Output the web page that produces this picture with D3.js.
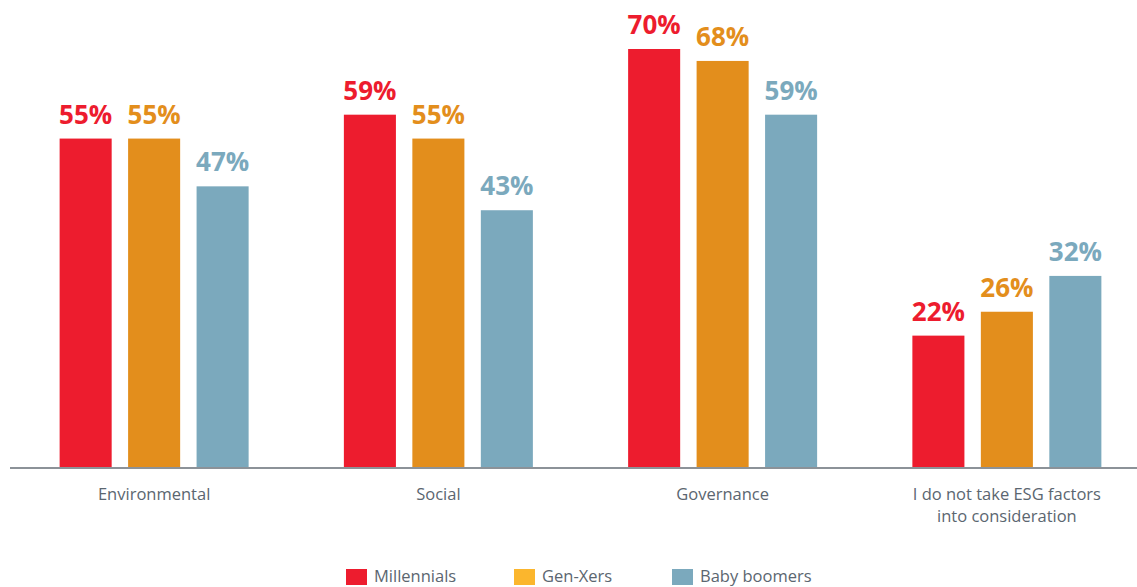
<!DOCTYPE html>
<html>
<head>
<meta charset="utf-8">
<script src="https://cdn.jsdelivr.net/npm/d3@7"></script>
<style>
  body { margin: 0; background: #fff; }
  svg text { font-family: "Open Sans", sans-serif; }
</style>
</head>
<body>
<script>
'use strict';

const categories = ["Environmental", "Social", "Governance", "I do not take ESG factors|into consideration"];
const series = ["Millennials", "Gen-Xers", "Baby boomers"];
const millennials = [55, 59, 70, 22];
const genXers = [55, 55, 68, 26];
const babyBoomers = [47, 43, 59, 32];

(function() {
  const width = 1137, height = 587;
  const barColors = ["#ED1C2E", "#E38E1C", "#7BA9BD"];
  const legendColors = ["#ED1C2E", "#FBB62D", "#7BA9BD"];
  const textGray = "#5B6670";

  const values = [millennials, genXers, babyBoomers];

  const svg = d3.select("body")
    .append("svg")
    .attr("width", width)
    .attr("height", height);

  let x = d3.scaleBand()
    .domain(categories)
    .range([12, 1149]);

  let xInner = d3.scaleBand()
    .domain(series)
    .range([-94.5, 94.5])
    .paddingInner(0.24);

  let y = d3.scaleLinear()
    .domain([0, 70])
    .range([467, 49]);

  let rows = [];
  categories.forEach((c, i) => {
    series.forEach((s, j) => {
      rows.push({cat: c, ser: s, j: j, v: values[j][i]});
    });
  });

  let cx = (d) => x(d.cat) + x.bandwidth() / 2 + xInner(d.ser);

  svg.selectAll(".bar")
    .data(rows)
    .enter()
    .append("rect")
      .attr("class", "bar")
      .attr("x", cx)
      .attr("y", (d) => y(d.v))
      .attr("width", xInner.bandwidth())
      .attr("height", (d) => y(0) - y(d.v))
      .attr("fill", (d) => barColors[d.j]);

  svg.selectAll(".val")
    .data(rows)
    .enter()
    .append("text")
      .attr("class", "val")
      .attr("x", (d) => cx(d) + xInner.bandwidth() / 2)
      .attr("y", (d) => y(d.v) - 15)
      .attr("text-anchor", "middle")
      .style("font-size", "26px")
      .style("font-weight", "bold")
      .attr("fill", (d) => barColors[d.j])
      .text((d) => d.v + "%");

  // baseline
  svg.append("line")
    .attr("x1", 10)
    .attr("x2", width)
    .attr("y1", y(0) + 1)
    .attr("y2", y(0) + 1)
    .attr("stroke", "#8C9298")
    .attr("stroke-width", 2);

  // category labels
  let labels = svg.selectAll(".cat")
    .data(categories)
    .enter()
    .append("text")
      .attr("class", "cat")
      .attr("x", (d) => x(d) + x.bandwidth() / 2)
      .attr("y", 500)
      .attr("text-anchor", "middle")
      .style("font-size", "16.5px")
      .attr("fill", textGray);

  labels.selectAll("tspan")
    .data((d) => d.split("|"))
    .enter()
    .append("tspan")
      .attr("x", function() { return d3.select(this.parentNode).attr("x"); })
      .attr("dy", (d, i) => i === 0 ? 0 : 22)
      .text((d) => d);

  // legend
  const legendX = [346, 514, 672];
  let legend = svg.selectAll(".legend")
    .data(series)
    .enter()
    .append("g")
      .attr("class", "legend")
      .attr("transform", (d, i) => "translate(" + legendX[i] + ", 569)");

  legend.append("rect")
    .attr("width", 21)
    .attr("height", 16)
    .attr("fill", (d, i) => legendColors[i]);

  legend.append("text")
    .attr("x", 28)
    .attr("y", 13)
    .style("font-size", "16.5px")
    .attr("fill", textGray)
    .text((d) => d);
})();
</script>
</body>
</html>
